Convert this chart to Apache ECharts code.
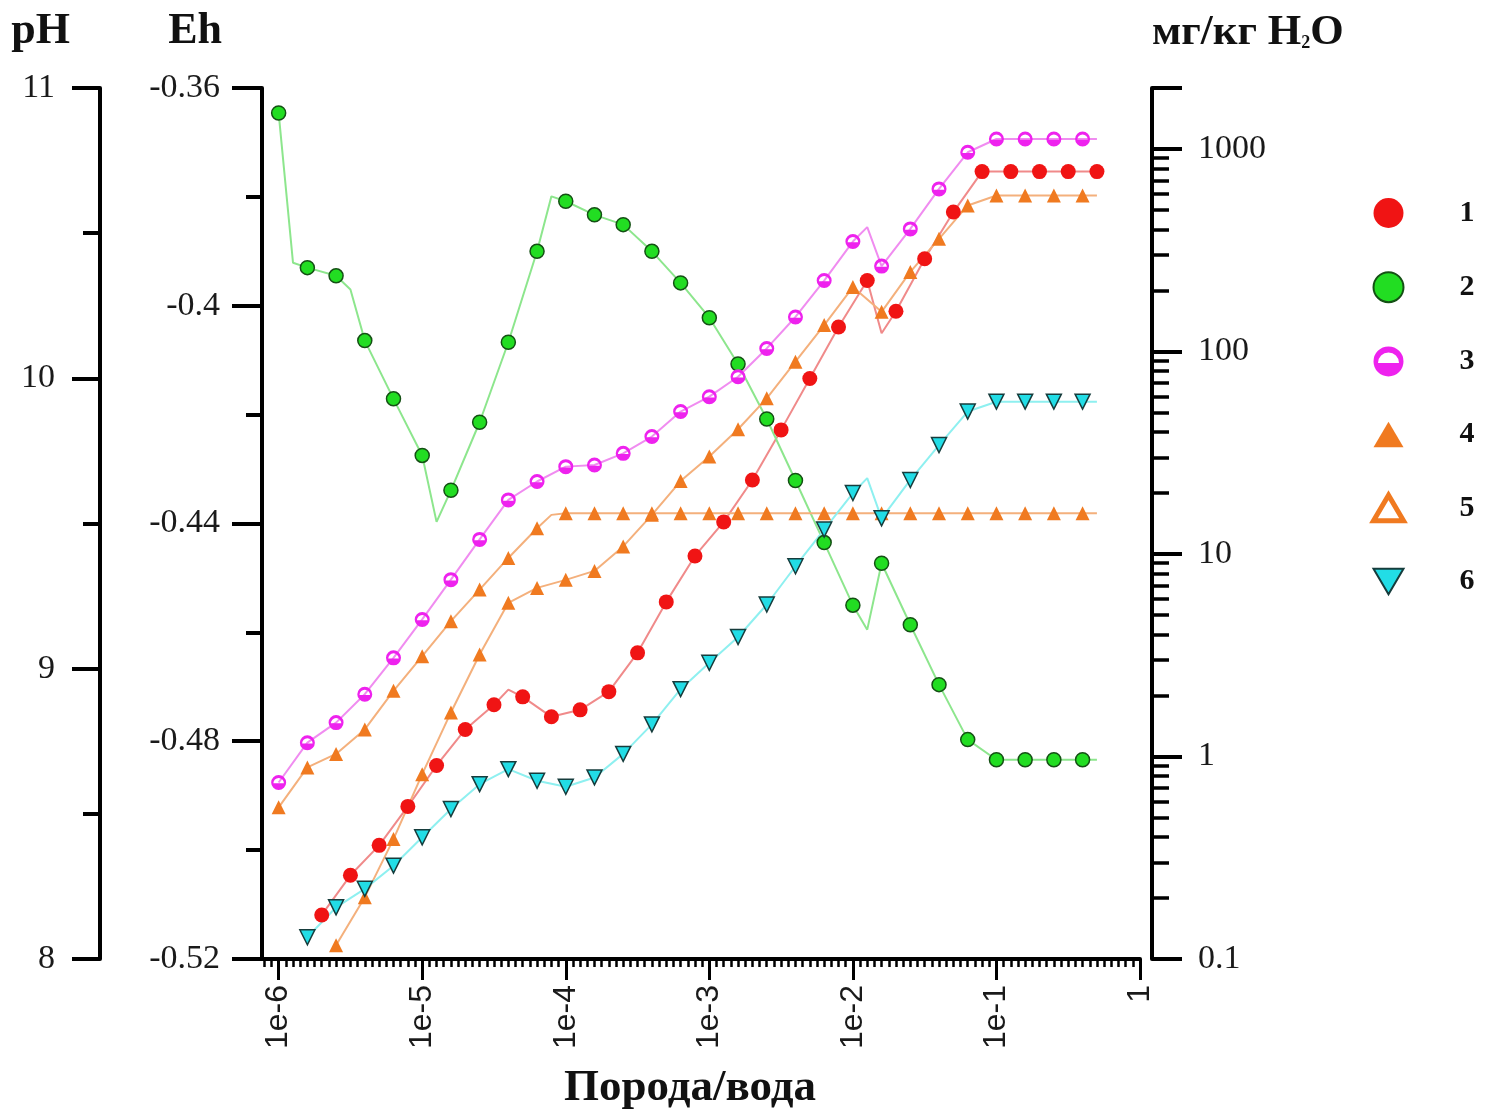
<!DOCTYPE html>
<html>
<head>
<meta charset="utf-8">
<script src="https://cdn.jsdelivr.net/npm/echarts@6/dist/echarts.min.js"></script>
<style>
html,body{margin:0;padding:0;background:#ffffff;}
#main{width:1493px;height:1116px;}
</style>
</head>
<body>
<div id="main"></div>
<script>
// ---------------- DATA (x = log10 of rock/water ratio) ----------------
// Series 1 (red circles), mg/kg H2O
const s1X = [-5.7,-5.5,-5.3,-5.1,-4.9,-4.7,-4.5,-4.3,-4.1,-3.9,-3.7,-3.5,-3.3,-3.1,-2.9,-2.7,-2.5,-2.3,-2.1,-1.9,-1.7,-1.5,-1.3,-1.1,-0.9,-0.7,-0.5,-0.3];
const s1Y = [0.165,0.259,0.364,0.567,0.903,1.36,1.80,1.97,1.57,1.70,2.09,3.25,5.80,9.78,14.4,23.2,41.0,73.6,132,224,158,287,488,773,773,773,773,773];
const s1BendX = [-4.4,-1.8];
const s1BendY = [2.14,123];

// Series 2 (green circles), Eh
const s2X = [-6,-5.8,-5.6,-5.4,-5.2,-5,-4.8,-4.6,-4.4,-4.2,-4,-3.8,-3.6,-3.4,-3.2,-3,-2.8,-2.6,-2.4,-2.2,-2,-1.8,-1.6,-1.4,-1.2,-1,-0.8,-0.6,-0.4];
const s2Y = [-0.3646,-0.3930,-0.3945,-0.4064,-0.4171,-0.4275,-0.4339,-0.4214,-0.4067,-0.3900,-0.3808,-0.3833,-0.3851,-0.3900,-0.3958,-0.4022,-0.4107,-0.4208,-0.4321,-0.4435,-0.4550,-0.4473,-0.4586,-0.4696,-0.4797,-0.4834,-0.4834,-0.4834,-0.4834];
const s2BendX = [-5.9,-5.5,-4.9,-4.1,-1.9,-0.3];
const s2BendY = [-0.3921,-0.3970,-0.4397,-0.3799,-0.4595,-0.4834];

// Series 3 (magenta half-filled circles), mg/kg H2O
const s3X = [-6,-5.8,-5.6,-5.4,-5.2,-5,-4.8,-4.6,-4.4,-4.2,-4,-3.8,-3.6,-3.4,-3.2,-3,-2.8,-2.6,-2.4,-2.2,-2,-1.8,-1.6,-1.4,-1.2,-1,-0.8,-0.6,-0.4];
const s3Y = [0.744,1.17,1.47,2.03,3.07,4.75,7.47,11.8,18.5,22.8,27.0,27.5,31.4,38.0,50.5,59.8,75.0,103.5,148,224,349,264,403,635,963,1120,1120,1120,1120];
const s3BendX = [-1.9,-0.3];
const s3BendY = [411,1120];

// Series 4 (orange filled triangles), mg/kg H2O
const s4X = [-5.6,-5.4,-5.2,-5,-4.8,-4.6,-4.4,-4.2,-4,-3.8,-3.6,-3.4,-3.2,-3,-2.8,-2.6,-2.4,-2.2,-2,-1.8,-1.6,-1.4,-1.2,-1,-0.8,-0.6,-0.4];
const s4Y = [0.117,0.202,0.391,0.818,1.65,3.19,5.74,6.80,7.45,8.25,10.9,15.6,22.9,30.3,41.3,58.7,89.0,135,208,157,247,360,526,589,589,589,589];
const s4BendX = [-0.3];
const s4BendY = [589];

// Series 5 (orange triangles), mg/kg H2O
const s5X = [-6,-5.8,-5.6,-5.4,-5.2,-5,-4.8,-4.6,-4.4,-4.2,-4,-3.8,-3.6,-3.4,-3.2,-3,-2.8,-2.6,-2.4,-2.2,-2,-1.8,-1.6,-1.4,-1.2,-1,-0.8,-0.6,-0.4];
const s5Y = [0.561,0.883,1.03,1.36,2.11,3.13,4.66,6.67,9.56,13.4,15.9,15.9,15.9,15.9,15.9,15.9,15.9,15.9,15.9,15.9,15.9,15.9,15.9,15.9,15.9,15.9,15.9,15.9,15.9];
const s5BendX = [-4.1,-0.3];
const s5BendY = [15.6,15.9];

// Series 6 (cyan down triangles), mg/kg H2O
const s6X = [-5.8,-5.6,-5.4,-5.2,-5,-4.8,-4.6,-4.4,-4.2,-4,-3.8,-3.6,-3.4,-3.2,-3,-2.8,-2.6,-2.4,-2.2,-2,-1.8,-1.6,-1.4,-1.2,-1,-0.8,-0.6,-0.4];
const s6Y = [0.128,0.180,0.222,0.289,0.399,0.550,0.730,0.866,0.759,0.709,0.788,1.03,1.44,2.15,2.90,3.89,5.63,8.70,13.2,20.0,15.0,23.2,34.5,50.5,56.5,56.5,56.5,56.5];
const s6BendX = [-1.9,-0.3];
const s6BendY = [23.7,56.5];

// Axis ticks / labels
const ratioTicks = [1e-6,1e-5,1e-4,1e-3,1e-2,1e-1,1];
const ratioLabels = ['1e-6','1e-5','1e-4','1e-3','1e-2','1e-1','1'];
const concTicks = [0.1,1,10,100,1000];
const concLabels = ['0.1','1','10','100','1000'];
const seriesNames = ['1','2','3','4','5','6'];

// ---------------- BUILD ----------------
const RATIO_MIN = Math.pow(10,-6.116);
const RATIO_MAX = 1;
const CONC_MIN = 0.1, CONC_MAX = 2000;

function build(xe, ys, bxe, bys) {
  const pts = xe.map((e,i)=>({value:[Math.pow(10,e), ys[i]]}));
  bxe.forEach((e,i)=>pts.push({value:[Math.pow(10,e), bys[i]], symbol:'none'}));
  pts.sort((a,b)=>a.value[0]-b.value[0]);
  return pts;
}
function labelFor(v, ticks, labels){
  let best=0, bd=Infinity;
  ticks.forEach((t,i)=>{const d=Math.abs(Math.log10(t)-Math.log10(v)); if(d<bd){bd=d;best=i;}});
  return labels[best];
}
// minor tick positions (axis decoration)
const xMinor = [];
for (let j=-122;j<=0;j++){ const e=j*0.05; if (Math.abs(e-Math.round(e))>1e-6 && e>=-6.116) xMinor.push(Math.pow(10,e)); }
const yMinor = [];
for (let d=-1; d<=3; d++){ for (let m=2;m<=9;m++){ const v=m*Math.pow(10,d); if (v<CONC_MAX) yMinor.push(+v.toPrecision(3)); } }

const HALF = 'path://M-10,0 A10,10 0 1,1 10,0 A10,10 0 1,1 -10,0 Z M-7,1 L7,1 A7,7 0 0,0 -7,1 Z';
const DOWN = 'path://M0,9 L-10,-8 L10,-8 Z';
const UP = 'path://M0,-9 L-10,8 L10,8 Z';

const SERIF = 'Liberation Serif';
const tickLbl = {fontFamily: SERIF, fontSize: 34, color: '#1a1a1a'};
const blk = {color:'#000', width:4};

const chart = echarts.init(document.getElementById('main'), null, {renderer:'canvas'});
const option = {
  animation: false,
  backgroundColor: '#ffffff',
  grid: {left: 262, right: 353, top: 88, bottom: 154, containLabel: false},
  legend: {
    orient: 'vertical', left: 1366, top: 193,
    itemWidth: 30, itemHeight: 30, itemGap: 43.2,
    selectedMode: false,
    textStyle: {fontFamily: SERIF, fontWeight: 'bold', fontSize: 30, color: '#111', lineHeight: 30, padding: [0,0,0,51]},
    data: [
      {name: seriesNames[0], icon: 'circle'},
      {name: seriesNames[1], icon: 'circle', itemStyle: {borderColor: '#145014', borderWidth: 2}},
      {name: seriesNames[2], icon: HALF},
      {name: seriesNames[3], icon: UP},
      {name: seriesNames[4], icon: UP, itemStyle: {color: '#ffffff', borderColor: '#f07a20', borderWidth: 5}},
      {name: seriesNames[5], icon: DOWN, itemStyle: {borderColor: '#163c3c', borderWidth: 2}}
    ]
  },
  xAxis: [
    {
      type: 'log', logBase: 10, min: RATIO_MIN, max: RATIO_MAX, position: 'bottom',
      axisLine: {show: true, lineStyle: blk},
      axisTick: {show: true, customValues: ratioTicks, length: 21, lineStyle: {color:'#000', width:3}},
      axisLabel: {show: true, customValues: ratioTicks, rotate: 90, margin: 26,
        fontFamily: 'Liberation Sans', fontSize: 32, color: '#1a1a1a',
        formatter: v => labelFor(v, ratioTicks, ratioLabels)},
      splitLine: {show: false},
      name: 'Порода/вода', nameLocation: 'middle', nameGap: 107,
      nameTextStyle: {fontFamily: SERIF, fontWeight: 'bold', fontSize: 45, color: '#111', padding: [0,22,0,0]}
    },
    {
      type: 'log', logBase: 10, min: RATIO_MIN, max: RATIO_MAX, position: 'bottom',
      axisLine: {show: false},
      axisTick: {show: true, customValues: xMinor, length: 8, lineStyle: {color:'#000', width:2.5}},
      axisLabel: {show: false},
      splitLine: {show: false}
    }
  ],
  yAxis: [
    {
      type: 'value', position: 'left', offset: 162, min: 8, max: 11, interval: 1,
      axisLine: {show: true, lineStyle: blk},
      axisTick: {show: true, length: 28, lineStyle: blk},
      minorTick: {show: true, splitNumber: 2, length: 17, lineStyle: blk},
      axisLabel: Object.assign({margin: 45}, tickLbl),
      splitLine: {show: false}, minorSplitLine: {show: false},
      name: 'pH', nameLocation: 'end', nameGap: 34,
      nameTextStyle: {fontFamily: SERIF, fontWeight: 'bold', fontSize: 44, color: '#111', align: 'right', padding: [0,30,0,0]}
    },
    {
      type: 'value', position: 'left', offset: 0, min: -0.52, max: -0.36, interval: 0.04,
      axisLine: {show: true, lineStyle: blk},
      axisTick: {show: true, length: 30, lineStyle: blk},
      minorTick: {show: true, splitNumber: 2, length: 16, lineStyle: blk},
      axisLabel: Object.assign({margin: 42}, tickLbl),
      splitLine: {show: false}, minorSplitLine: {show: false},
      name: 'Eh', nameLocation: 'end', nameGap: 34,
      nameTextStyle: {fontFamily: SERIF, fontWeight: 'bold', fontSize: 44, color: '#111', align: 'right', padding: [0,40,0,0]}
    },
    {
      type: 'log', logBase: 10, position: 'right', offset: 12, min: CONC_MIN, max: CONC_MAX,
      axisLine: {show: true, lineStyle: blk},
      axisTick: {show: true, customValues: concTicks.concat([CONC_MAX]), length: 30, lineStyle: blk},
      axisLabel: Object.assign({customValues: concTicks, margin: 46, formatter: v => labelFor(v, concTicks, concLabels)}, tickLbl),
      splitLine: {show: false},
      name: '{t|мг/кг H}{s|2}{t|O}', nameLocation: 'end', nameGap: 34,
      nameTextStyle: {align: 'left', color: '#111', padding: [0,0,0,0],
        rich: {
          t: {fontFamily: SERIF, fontWeight: 'bold', fontSize: 43, color: '#111'},
          s: {fontFamily: SERIF, fontWeight: 'bold', fontSize: 18, color: '#111', verticalAlign: 'bottom', padding: [0,0,2,0]}
        }}
    },
    {
      type: 'log', logBase: 10, position: 'right', offset: 12, min: CONC_MIN, max: CONC_MAX,
      axisLine: {show: false},
      axisTick: {show: true, customValues: yMinor, length: 17, lineStyle: {color:'#000', width:3.5}},
      axisLabel: {show: false},
      splitLine: {show: false}
    }
  ],
  series: [
    {name: seriesNames[0], type: 'line', xAxisIndex: 0, yAxisIndex: 2, data: build(s1X, s1Y, s1BendX, s1BendY),
     symbol: 'circle', symbolSize: 15, showAllSymbol: true, clip: false,
     itemStyle: {color: '#f01414'}, lineStyle: {color: '#f08a8a', width: 2}},
    {name: seriesNames[1], type: 'line', xAxisIndex: 0, yAxisIndex: 1, data: build(s2X, s2Y, s2BendX, s2BendY),
     symbol: 'circle', symbolSize: 14, showAllSymbol: true, clip: false,
     itemStyle: {color: '#22dd22', borderColor: '#145014', borderWidth: 1.5}, lineStyle: {color: '#8de68d', width: 2}},
    {name: seriesNames[2], type: 'line', xAxisIndex: 0, yAxisIndex: 2, data: build(s3X, s3Y, s3BendX, s3BendY),
     symbol: HALF, symbolSize: 15, symbolKeepAspect: true, showAllSymbol: true, clip: false,
     itemStyle: {color: '#ee22ee'}, lineStyle: {color: '#f08cf0', width: 2}},
    {name: seriesNames[3], type: 'line', xAxisIndex: 0, yAxisIndex: 2, data: build(s4X, s4Y, s4BendX, s4BendY),
     symbol: UP, symbolSize: 14, showAllSymbol: true, clip: false,
     itemStyle: {color: '#f07a20'}, lineStyle: {color: '#f4b07c', width: 2}},
    {name: seriesNames[4], type: 'line', xAxisIndex: 0, yAxisIndex: 2, data: build(s5X, s5Y, s5BendX, s5BendY),
     symbol: UP, symbolSize: 14, showAllSymbol: true, clip: false,
     itemStyle: {color: '#f07a20'}, lineStyle: {color: '#f4b07c', width: 2}},
    {name: seriesNames[5], type: 'line', xAxisIndex: 0, yAxisIndex: 2, data: build(s6X, s6Y, s6BendX, s6BendY),
     symbol: DOWN, symbolSize: 15, showAllSymbol: true, clip: false,
     itemStyle: {color: '#22dde6', borderColor: '#163c3c', borderWidth: 1.5}, lineStyle: {color: '#8ef0f0', width: 2}}
  ]
};
chart.setOption(option);
</script>
</body>
</html>
